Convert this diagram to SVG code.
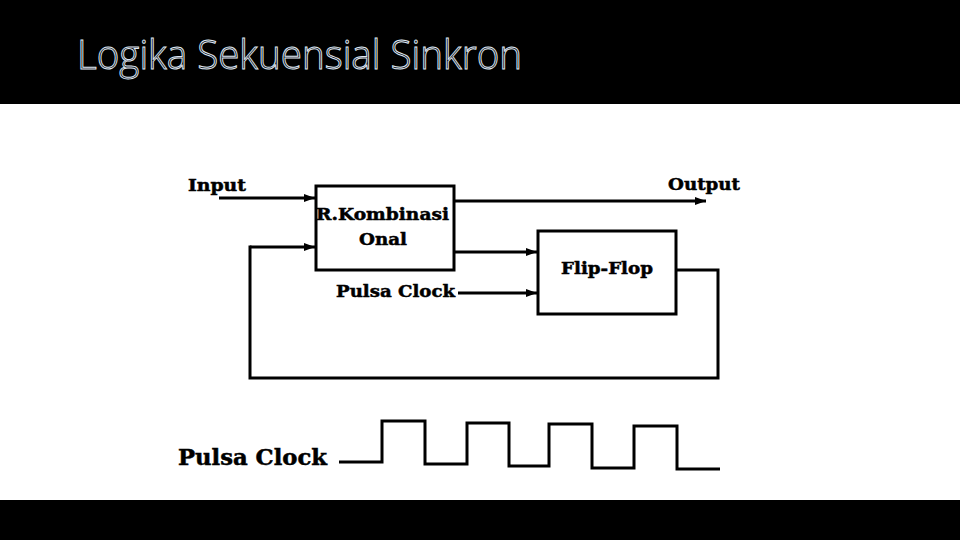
<svg xmlns="http://www.w3.org/2000/svg" width="960" height="540" viewBox="0 0 960 540">
  <style>
    .lbl { font-family: "DejaVu Serif", "Liberation Serif", serif; font-weight: bold; fill: #000; stroke: #000; stroke-width: 0.5; }
    .wire { fill: none; stroke: #000; stroke-width: 3; stroke-linejoin: miter; stroke-linecap: square; }
    .box { fill: #fff; stroke: #000; stroke-width: 3; }
  </style>
  <defs>
    <marker id="arr" markerUnits="userSpaceOnUse" markerWidth="12" markerHeight="10" refX="11" refY="5" orient="auto">
      <path d="M0,1 L11,5 L0,9 Z" fill="#000"/>
    </marker>
  </defs>
  <rect x="0" y="0" width="960" height="540" fill="#fff"/>
  <rect x="0" y="0" width="960" height="104" fill="#000"/>
  <rect x="0" y="500" width="960" height="40" fill="#000"/>
  <text x="77" y="69" font-family="Open Sans, Liberation Sans, sans-serif" font-weight="300" font-size="41" textLength="445" lengthAdjust="spacingAndGlyphs" fill="#05050c" stroke="#dfe7f2" stroke-width="1">Logika Sekuensial Sinkron</text>

  <g id="connectors">
    <line class="wire" x1="219" y1="198" x2="315" y2="198" marker-end="url(#arr)" style="stroke-linecap:butt"/>
    <polyline class="wire" points="676,270 718,270 718,378 250,378 250,247" />
    <line class="wire" x1="250" y1="247" x2="315" y2="247" marker-end="url(#arr)" style="stroke-linecap:butt"/>
    <line class="wire" x1="454" y1="201" x2="706" y2="201" marker-end="url(#arr)" style="stroke-linecap:butt"/>
    <line class="wire" x1="454" y1="252" x2="537" y2="252" marker-end="url(#arr)" style="stroke-linecap:butt"/>
    <line class="wire" x1="458" y1="293" x2="537" y2="293" marker-end="url(#arr)" style="stroke-linecap:butt"/>
  </g>

  <g id="input-label">
    <text class="lbl" x="188" y="191" font-size="17" textLength="58" lengthAdjust="spacingAndGlyphs">Input</text>
  </g>
  <g id="output-label">
    <text class="lbl" x="668" y="190" font-size="17" textLength="72" lengthAdjust="spacingAndGlyphs">Output</text>
  </g>
  <g id="kombinasi">
    <rect class="box" x="316" y="186" width="138" height="84"/>
    <text class="lbl" x="316" y="220" font-size="17" textLength="133" lengthAdjust="spacingAndGlyphs">R.Kombinasi</text>
    <text class="lbl" x="359" y="245" font-size="17" textLength="48" lengthAdjust="spacingAndGlyphs">Onal</text>
  </g>
  <g id="pulsa-clock-label">
    <text class="lbl" x="336" y="297" font-size="17" textLength="119" lengthAdjust="spacingAndGlyphs">Pulsa Clock</text>
  </g>
  <g id="flipflop">
    <rect class="box" x="538" y="231" width="138" height="83"/>
    <text class="lbl" x="561" y="274" font-size="17" textLength="92" lengthAdjust="spacingAndGlyphs">Flip-Flop</text>
  </g>
  <g id="clock-wave">
    <text class="lbl" x="178" y="465" font-size="22" textLength="149" lengthAdjust="spacingAndGlyphs">Pulsa Clock</text>
    <polyline class="wire" style="stroke-linecap:butt" points="339,462 382,462 382,421 425,421 425,464 467,464 467,423 509,423 509,466 549,466 549,424 592,424 592,468 634,468 634,426 677,426 677,469 720,469"/>
  </g>
</svg>
